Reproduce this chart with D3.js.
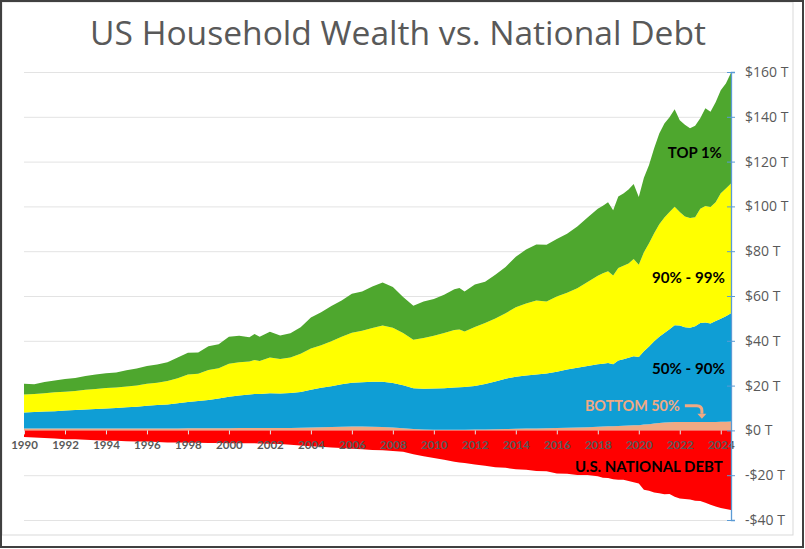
<!DOCTYPE html>
<html>
<head>
<meta charset="utf-8">
<script src="https://cdn.jsdelivr.net/npm/d3@7"></script>
<style>
  body { margin: 0; background: #fff; }
  svg { display: block; }
</style>
</head>
<body>
<svg id="chart"></svg>
<script>

// quarter dates (decimal years) and net worth in $ trillions
var dates = [1990.0, 1990.5, 1991.0, 1991.5, 1992.0, 1992.5, 1993.0, 1993.5, 1994.0, 1994.5,
    1995.0, 1995.5, 1996.0, 1996.5, 1997.0, 1997.5, 1998.0, 1998.5, 1999.0, 1999.5,
    2000.0, 2000.5, 2001.0, 2001.25, 2001.5, 2002.0, 2002.5, 2003.0, 2003.5, 2004.0,
    2004.5, 2005.0, 2005.5, 2006.0, 2006.5, 2007.0, 2007.5, 2008.0, 2008.5, 2009.0,
    2009.5, 2010.0, 2010.5, 2011.0, 2011.25, 2011.5, 2012.0, 2012.5, 2013.0, 2013.5,
    2014.0, 2014.5, 2015.0, 2015.5, 2016.0, 2016.5, 2017.0, 2017.5, 2018.0, 2018.25,
    2018.5, 2018.75, 2019.0, 2019.25, 2019.5, 2019.75, 2020.0, 2020.25, 2020.5, 2020.75,
    2021.0, 2021.25, 2021.5, 2021.75, 2022.0, 2022.25, 2022.5, 2022.75, 2023.0, 2023.25,
    2023.5, 2023.75, 2024.0, 2024.25, 2024.5]

var bottom50 = [0.8, 0.8, 0.8, 0.8, 0.8, 0.8, 0.8, 0.8, 0.8, 0.8,
    0.8, 0.8, 0.9, 0.9, 0.9, 0.9, 1.0, 1.0, 1.0, 1.0,
    1.0, 1.1, 1.1, 1.1, 1.1, 1.1, 1.1, 1.1, 1.2, 1.3,
    1.4, 1.5, 1.6, 1.7, 1.7, 1.6, 1.5, 1.3, 1.0, 0.6,
    0.4, 0.3, 0.3, 0.3, 0.3, 0.3, 0.4, 0.4, 0.5, 0.6,
    0.7, 0.8, 0.9, 1.0, 1.1, 1.2, 1.3, 1.4, 1.6, 1.7,
    1.8, 1.8, 2.0, 2.1, 2.2, 2.3, 2.3, 2.6, 2.8, 3.1,
    3.3, 3.5, 3.6, 3.7, 3.7, 3.7, 3.7, 3.7, 3.7, 3.8,
    3.8, 3.8, 3.9, 3.9, 4.0]

var mid40 = [7.2, 7.4, 7.6, 7.8, 8.1, 8.3, 8.5, 8.8, 9.0, 9.2,
    9.5, 9.8, 10.1, 10.4, 10.7, 11.2, 11.7, 12.1, 12.6, 13.2,
    14.0, 14.5, 14.9, 15.1, 15.2, 15.5, 15.4, 15.6, 15.9, 16.9,
    17.6, 18.2, 19.0, 19.6, 19.8, 20.1, 20.2, 19.9, 19.2, 18.2,
    18.2, 18.4, 18.5, 18.9, 19.0, 19.1, 19.4, 20.3, 21.3, 22.5,
    23.3, 23.7, 24.1, 24.4, 25.1, 26.0, 26.7, 27.4, 27.9, 28.1,
    28.3, 27.7, 29.2, 29.7, 30.2, 30.8, 30.5, 32.7, 34.7, 36.7,
    38.5, 40.0, 41.6, 43.2, 43.1, 42.3, 42.1, 42.8, 44.3, 44.4,
    43.9, 45.0, 45.9, 47.1, 48.3]

var next9 = [8.0, 8.0, 8.2, 8.4, 8.4, 8.5, 8.8, 8.9, 9.1, 9.2,
    9.3, 9.5, 9.8, 10.0, 10.5, 11.2, 12.3, 12.2, 13.4, 13.6,
    14.8, 14.8, 14.8, 15.2, 14.7, 15.9, 15.4, 15.8, 17.1, 18.4,
    19.0, 20.1, 21.2, 22.3, 23.0, 24.0, 25.1, 24.6, 23.3, 21.7,
    22.7, 23.5, 24.7, 25.6, 25.7, 24.8, 26.4, 27.3, 28.2, 29.2,
    31.0, 32.1, 33.0, 32.2, 33.6, 34.3, 35.5, 37.5, 39.5, 40.4,
    40.9, 39.6, 41.3, 41.7, 42.1, 43.4, 41.2, 44.2, 46.0, 48.2,
    50.2, 51.5, 52.3, 52.9, 50.7, 49.5, 49.0, 48.7, 51.0, 52.0,
    52.0, 53.0, 56.1, 57.0, 57.9]

var top1 = [4.8, 4.4, 5.0, 5.3, 5.6, 5.8, 6.2, 6.5, 6.6, 6.7,
    7.2, 7.5, 7.9, 8.1, 8.3, 9.3, 9.7, 9.5, 10.6, 10.7,
    12.0, 11.8, 10.8, 11.6, 10.8, 11.5, 10.5, 10.9, 11.9, 13.8,
    14.8, 15.7, 16.2, 17.4, 17.5, 18.5, 19.2, 18.2, 16.0, 15.1,
    16.3, 16.5, 17.1, 18.2, 18.6, 17.8, 18.9, 18.4, 19.5, 20.7,
    22.5, 24.2, 25.0, 25.3, 25.7, 26.3, 27.5, 28.7, 30.0, 30.1,
    30.8, 29.2, 31.9, 32.3, 33.1, 33.5, 30.2, 33.3, 35.0, 38.0,
    40.5, 42.0, 42.3, 43.6, 41.0, 41.0, 40.1, 40.8, 40.3, 43.6,
    42.6, 44.7, 46.0, 46.9, 49.5]

var nationalDebt = [2.9, 3.2, 3.4, 3.6, 3.9, 4.0, 4.2, 4.4, 4.6, 4.6,
    4.8, 4.9, 5.0, 5.2, 5.4, 5.4, 5.5, 5.5, 5.6, 5.6,
    5.7, 5.7, 5.7, 5.7, 5.8, 6.0, 6.1, 6.4, 6.7, 7.1,
    7.3, 7.6, 7.9, 8.2, 8.4, 8.7, 8.9, 9.2, 9.5, 10.7,
    11.5, 12.3, 13.1, 14.0, 14.3, 14.6, 15.2, 15.8, 16.4, 16.7,
    17.3, 17.6, 18.1, 18.2, 19.2, 19.4, 19.9, 19.9, 20.5, 21.1,
    21.3, 21.8, 22.0, 22.0, 22.6, 23.2, 23.7, 26.5, 26.9, 27.7,
    28.1, 28.5, 28.4, 29.6, 30.4, 30.6, 30.9, 31.4, 31.5, 32.3,
    33.2, 34.0, 34.6, 35.1, 35.5]

var keys = ["bottom50", "mid40", "next9", "top1"]
var colors = ["#F1A983", "#0F9ED5", "#FFFF00", "#4EA72E"]
var yTicks = [-40, -20, 0, 20, 40, 60, 80, 100, 120, 140, 160]
var xTicks = d3.range(1990, 2025, 2)

var width = 805
var height = 549
var title = "US Household Wealth vs. National Debt"

function fitWidth(sel, w) {
    var len = sel.node().getComputedTextLength()
    var fs = parseFloat(sel.attr("font-size"))
    sel.attr("font-size", fs * w / len)
}

function moneyFmt(v) {
    return (v < 0 ? "-$" : "$") + Math.abs(v) + " T"
}

var svg = d3.select("#chart")
            .attr("width", width)
            .attr("height", height)

var xScale = d3.scaleLinear()
    .domain([1990, 2024.5])
    .range([24, 731])

var yScale = d3.scaleLinear()
    .domain([-40, 160])
    .range([520, 72])

// frame
svg.append("rect")
    .attr("x", 2).attr("y", 2)
    .attr("width", 791).attr("height", 533)
    .attr("fill", "white")
    .attr("stroke", "#d9d9d9")

svg.append("rect")
    .attr("x", 1).attr("y", 1)
    .attr("width", 802).attr("height", 546)
    .attr("fill", "none")
    .attr("stroke", "#404040")
    .attr("stroke-width", 2)

svg.append("text")
    .attr("id", "title")
    .attr("x", 398)
    .attr("y", 45)
    .attr("text-anchor", "middle")
    .attr("font-family", "Open Sans")
    .attr("font-size", 32)
    .attr("fill", "#595959")
    .text(title)
fitWidth(svg.select("#title"), 616)

// gridlines
var grid = svg.append("g")
    .attr("transform", "translate(" + xScale(1990) + ",0)")
    .call(d3.axisLeft(yScale).tickValues(yTicks).tickSize(-(xScale(2024.5) - xScale(1990))).tickFormat(""))
grid.select(".domain").remove()
grid.selectAll("line").attr("stroke", "#e3e3e3")

var rows = dates.map(function(d, i) {
    return {date: d, bottom50: bottom50[i], mid40: mid40[i], next9: next9[i], top1: top1[i], debt: nationalDebt[i]}
})

var series = d3.stack().keys(keys)(rows)

var area = d3.area()
    .x(function(d) { return xScale(d.data.date) })
    .y0(function(d) { return yScale(d[0]) })
    .y1(function(d) { return yScale(d[1]) })

svg.append("g")
    .selectAll("path")
    .data(series)
    .join("path")
    .attr("d", area)
    .attr("fill", function(d, i) { return colors[i] })

svg.append("path")
    .datum(rows)
    .attr("d", d3.area()
        .x(function(d) { return xScale(d.date) })
        .y0(yScale(0))
        .y1(function(d) { return yScale(-d.debt) }))
    .attr("fill", "#FF0000")

// x axis
var xAxis = svg.append("g")
    .attr("transform", "translate(0," + yScale(0) + ")")
    .call(d3.axisBottom(xScale).tickValues(xTicks).tickFormat(d3.format("d")).tickSize(4).tickPadding(6))
xAxis.select(".domain").remove()
xAxis.selectAll("line").attr("stroke", "#e6e6e6")
xAxis.selectAll("text")
    .attr("font-family", "Lato")
    .attr("font-weight", "bold")
    .attr("font-size", 11.5)
    .attr("fill", "#595959")

// y axis on the right
var yAxis = svg.append("g")
    .attr("transform", "translate(" + xScale(2024.5) + ",0)")
    .call(d3.axisRight(yScale).tickValues(yTicks).tickFormat(moneyFmt).tickSize(4).tickPadding(10))
yAxis.select(".domain").attr("stroke", "#5B9BD5").attr("stroke-width", 1.3)
yAxis.selectAll("line").attr("x1", -4).attr("x2", 4).attr("stroke", "#5B9BD5")
yAxis.selectAll("text")
    .attr("font-family", "Open Sans")
    .attr("font-size", 14)
    .attr("fill", "#595959")

// series labels
var labels = [
    {text: "TOP 1%", year: 2024.05, value: 121.7, w: 54, color: "#000"},
    {text: "90% - 99%", year: 2024.2, value: 65.8, w: 73, color: "#000"},
    {text: "50% - 90%", year: 2024.2, value: 25.4, w: 73, color: "#000"},
    {text: "BOTTOM 50%", year: 2022.0, value: 8.6, w: 95, color: "#F1A983"},
    {text: "U.S. NATIONAL DEBT", year: 2024.1, value: -18.6, w: 148, color: "#000"}
]

labels.forEach(function(l) {
    var t = svg.append("text")
        .attr("x", xScale(l.year))
        .attr("y", yScale(l.value))
        .attr("text-anchor", "end")
        .attr("font-family", "Lato")
        .attr("font-weight", "bold")
        .attr("font-size", 15)
        .attr("fill", l.color)
        .text(l.text)
    fitWidth(t, l.w)
})

// little arrow from the bottom 50% label
var ax = xScale(2022.25)
var ay = yScale(11)
svg.append("path")
    .attr("d", "M" + ax + "," + ay + " H" + (ax + 12) + " Q" + (ax + 17) + "," + ay + " " + (ax + 17) + "," + (ay + 5) + " V" + (ay + 8))
    .attr("fill", "none")
    .attr("stroke", "#F1A983")
    .attr("stroke-width", 3)

svg.append("path")
    .attr("d", "M" + (ax + 12.5) + "," + (ay + 8) + " L" + (ax + 21.5) + "," + (ay + 8) + " L" + (ax + 17) + "," + (ay + 13) + " Z")
    .attr("fill", "#F1A983")

</script>
</body>
</html>
